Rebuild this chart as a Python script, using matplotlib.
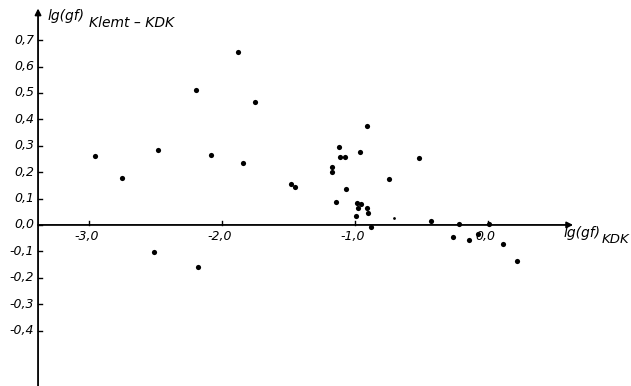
import matplotlib
matplotlib.use("Agg")
from matplotlib import pyplot as plt

# lg(gf) KDK against the difference Klemt - KDK
lg_kdk = [-2.955, -2.75, -2.48, -2.08, -1.84, -2.51, -2.18, -2.195, -1.877, -1.75,
          -0.907, -1.123, -1.115, -1.075, -0.96, -0.519, -1.175, -1.175, -0.747,
          -1.065, -1.14, -0.987, -0.955, -0.98, -0.907, -0.90, -0.995, -0.88,
          -0.43, -0.22, 0.005, -0.263, -0.143, -0.073, 0.113, 0.22, -1.479, -1.449]
diff = [0.261, 0.178, 0.283, 0.265, 0.235, -0.102, -0.159, 0.510, 0.656, 0.467,
        0.375, 0.297, 0.258, 0.258, 0.277, 0.254, 0.220, 0.201, 0.173,
        0.136, 0.087, 0.082, 0.078, 0.063, 0.063, 0.044, 0.035, -0.006,
        0.014, 0.005, 0.005, -0.044, -0.057, -0.035, -0.073, -0.135, 0.155, 0.145]
# faint small mark
small_x = [-0.709]
small_y = [0.027]

xticks = [-3.0, -2.0, -1.0, 0.0]
xtick_labels = ["-3,0", "-2,0", "-1,0", "0,0"]
yticks = [0.7, 0.6, 0.5, 0.4, 0.3, 0.2, 0.1, 0.0, -0.1, -0.2, -0.3, -0.4]
ytick_labels = ["0,7", "0,6", "0,5", "0,4", "0,3", "0,2", "0,1", "0,0",
                "-0,1", "-0,2", "-0,3", "-0,4"]

fig = plt.figure(figsize=(6.31, 3.86), dpi=100)
ax = fig.add_axes([0, 0, 1, 1])
ax.set_xlim(-3.669, 1.075)
ax.set_ylim(-0.610, 0.852)
ax.axis("off")

x_axis_pos = -3.383  # where the vertical axis stands
fs = 9
fnt = dict(family="DejaVu Sans", style="italic", fontsize=fs, color="black")

# axes with arrows
ax.annotate("", xy=(0.64, 0), xytext=(x_axis_pos, 0),
            arrowprops=dict(arrowstyle="-|>", lw=1.3, color="black",
                            mutation_scale=9, shrinkA=0, shrinkB=0))
ax.annotate("", xy=(x_axis_pos, 0.82), xytext=(x_axis_pos, -0.62),
            arrowprops=dict(arrowstyle="-|>", lw=1.3, color="black",
                            mutation_scale=9, shrinkA=0, shrinkB=0))

# ticks
for t, lab in zip(xticks, xtick_labels):
    ax.plot([t, t], [0, 0.014], color="black", lw=1.0)
    ax.text(t - 0.02, -0.018, lab, ha="center", va="top", **fnt)
for t, lab in zip(yticks, ytick_labels):
    ax.plot([x_axis_pos, x_axis_pos + 0.03], [t, t], color="black", lw=1.0)
    ax.text(x_axis_pos - 0.03, t, lab, ha="right", va="center", **fnt)

# axis titles
ax.text(-3.31, 0.775, "lg(gf)", ha="left", va="baseline",
        family="DejaVu Sans", style="italic", fontsize=10)
ax.text(-3.0, 0.748, "Klemt – KDK", ha="left", va="baseline",
        family="DejaVu Sans", style="italic", fontsize=10)
ax.text(0.565, -0.045, "lg(gf)", ha="left", va="baseline",
        family="DejaVu Sans", style="italic", fontsize=10)
ax.text(0.855, -0.068, "KDK", ha="left", va="baseline",
        family="DejaVu Sans", style="italic", fontsize=9.5)

ax.scatter(lg_kdk, diff, s=14, color="black", zorder=3, linewidths=0)
ax.scatter(small_x, small_y, s=4, color="black", zorder=3, linewidths=0)

fig.savefig("out.png", dpi=100)
